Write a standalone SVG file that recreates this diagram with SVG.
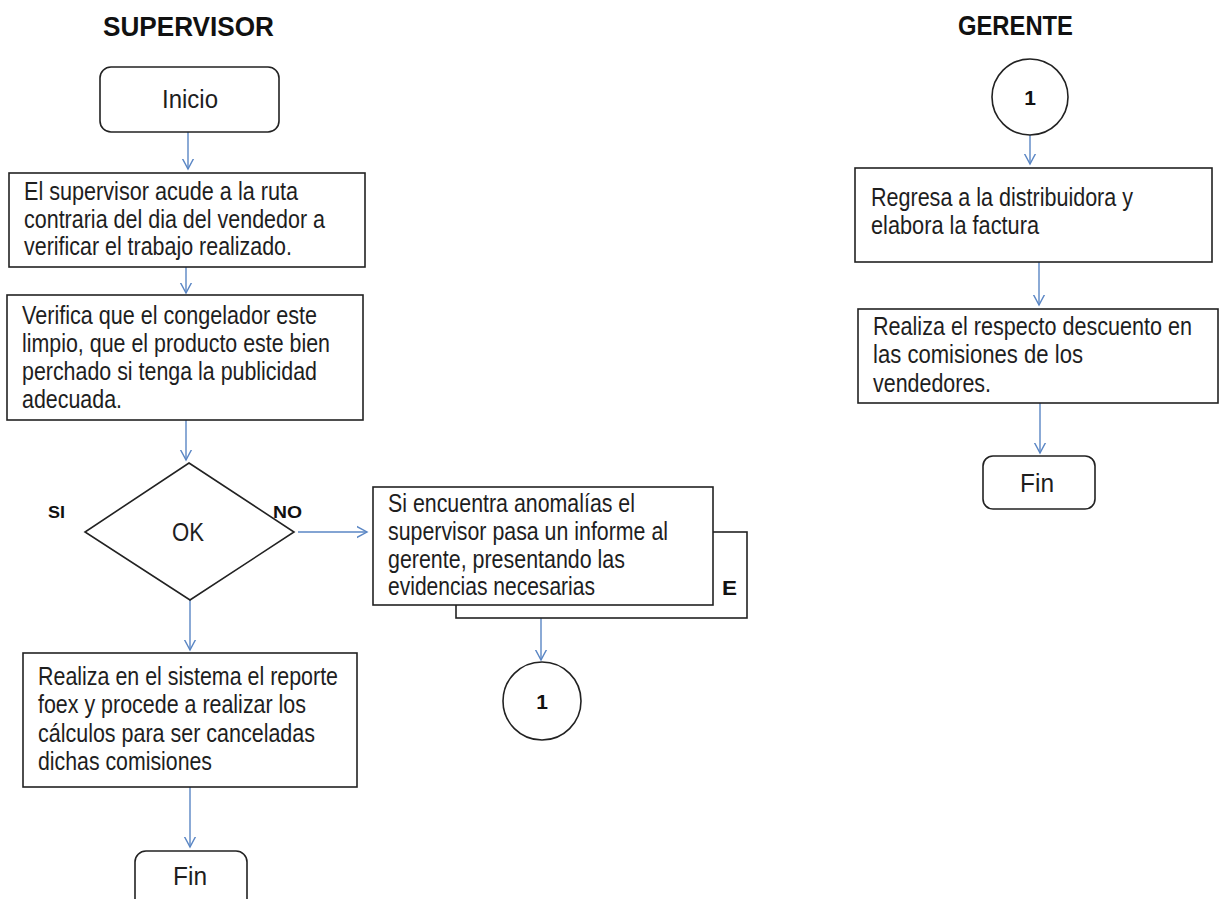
<svg xmlns="http://www.w3.org/2000/svg" width="1219" height="899" viewBox="0 0 1219 899">
<defs>
<marker id="arr" markerUnits="userSpaceOnUse" markerWidth="20" markerHeight="20" viewBox="-10 -10 20 20" refX="0" refY="0" orient="auto">
<path d="M-15,-8 L0,0 L-15,8" fill="none" stroke="#5a86c4" stroke-width="1.4"/>
</marker>
<style>
.box{fill:#fff;stroke:#222;stroke-width:1.6}
.t{font-family:"Liberation Sans",Arial,sans-serif;font-size:25px;fill:#1e1e1e}
.b{font-family:"Liberation Sans",Arial,sans-serif;font-weight:bold;fill:#111}
.c{stroke:#5a86c4;stroke-width:1.4;fill:none;marker-end:url(#arr)}
</style>
</defs>
<rect width="1219" height="899" fill="#fff"/>

<text class="b" x="103" y="36" font-size="27" textLength="171" lengthAdjust="spacingAndGlyphs">SUPERVISOR</text>
<text class="b" x="958" y="35" font-size="27" textLength="115" lengthAdjust="spacingAndGlyphs">GERENTE</text>

<g id="connectors">
<line class="c" x1="188" y1="132" x2="188" y2="169"/>
<line class="c" x1="186" y1="267" x2="186" y2="293"/>
<line class="c" x1="186" y1="420" x2="186" y2="460"/>
<line class="c" x1="190" y1="600" x2="190" y2="650"/>
<line class="c" x1="190" y1="787" x2="190" y2="847"/>
<line class="c" x1="298" y1="532" x2="367" y2="532"/>
<line class="c" x1="541" y1="605" x2="541" y2="660"/>
<line class="c" x1="1030" y1="135" x2="1030" y2="164"/>
<line class="c" x1="1039" y1="262" x2="1039" y2="305"/>
<line class="c" x1="1040" y1="403" x2="1040" y2="453"/>
</g>

<g id="inicio">
<rect class="box" x="100" y="67" width="179" height="65" rx="11"/>
<text class="t" x="162" y="108" font-size="27" textLength="56" lengthAdjust="spacingAndGlyphs">Inicio</text>
</g>

<g id="acude">
<rect class="box" x="9" y="173" width="356" height="94"/>
<text class="t" x="24" y="200" textLength="274" lengthAdjust="spacingAndGlyphs">El supervisor acude a la ruta</text>
<text class="t" x="24" y="228" textLength="301" lengthAdjust="spacingAndGlyphs">contraria del dia del vendedor a</text>
<text class="t" x="24" y="255" textLength="268" lengthAdjust="spacingAndGlyphs">verificar el trabajo realizado.</text>
</g>

<g id="verifica">
<rect class="box" x="7" y="295" width="356" height="125"/>
<text class="t" x="22" y="324" textLength="295" lengthAdjust="spacingAndGlyphs">Verifica que el congelador este</text>
<text class="t" x="22" y="352" textLength="308" lengthAdjust="spacingAndGlyphs">limpio, que el producto este bien</text>
<text class="t" x="22" y="380" textLength="295" lengthAdjust="spacingAndGlyphs">perchado si tenga la publicidad</text>
<text class="t" x="22" y="408" textLength="100" lengthAdjust="spacingAndGlyphs">adecuada.</text>
</g>

<g id="decision">
<polygon class="box" points="189,463 294,532 190,600 85,532"/>
<text class="t" x="188" y="541" font-size="26" text-anchor="middle" textLength="32" lengthAdjust="spacingAndGlyphs">OK</text>
<text class="b" x="48" y="518" font-size="17" textLength="17" lengthAdjust="spacingAndGlyphs">SI</text>
<text class="b" x="273" y="518" font-size="17" textLength="29" lengthAdjust="spacingAndGlyphs">NO</text>
</g>

<g id="informe">
<rect class="box" x="456" y="532" width="291" height="86"/>
<text class="b" x="722" y="595" font-size="21" textLength="15" lengthAdjust="spacingAndGlyphs">E</text>
<rect class="box" x="373" y="487" width="340" height="118"/>
<text class="t" x="388" y="512" textLength="247" lengthAdjust="spacingAndGlyphs">Si encuentra anomalías  el</text>
<text class="t" x="388" y="540" textLength="280" lengthAdjust="spacingAndGlyphs">supervisor pasa un informe al</text>
<text class="t" x="388" y="568" textLength="237" lengthAdjust="spacingAndGlyphs">gerente, presentando  las</text>
<text class="t" x="388" y="595" textLength="207" lengthAdjust="spacingAndGlyphs">evidencias necesarias</text>
</g>

<g id="conector1a">
<circle class="box" cx="542" cy="701" r="39"/>
<text class="b" x="542" y="709" font-size="21" text-anchor="middle">1</text>
</g>

<g id="realiza">
<rect class="box" x="23" y="653" width="334" height="134"/>
<text class="t" x="38" y="685" textLength="300" lengthAdjust="spacingAndGlyphs">Realiza en el sistema el reporte</text>
<text class="t" x="38" y="713" textLength="268" lengthAdjust="spacingAndGlyphs">foex y procede a realizar los</text>
<text class="t" x="38" y="742" textLength="277" lengthAdjust="spacingAndGlyphs">cálculos para ser canceladas</text>
<text class="t" x="38" y="770" textLength="174" lengthAdjust="spacingAndGlyphs">dichas comisiones</text>
</g>

<g id="fin1">
<rect class="box" x="135" y="851" width="112" height="60" rx="11"/>
<text class="t" x="190" y="885" font-size="30" text-anchor="middle" textLength="34" lengthAdjust="spacingAndGlyphs">Fin</text>
</g>

<g id="conector1b">
<circle class="box" cx="1030" cy="97" r="38"/>
<text class="b" x="1030" y="105" font-size="21" text-anchor="middle">1</text>
</g>

<g id="regresa">
<rect class="box" x="855" y="168" width="357" height="94"/>
<text class="t" x="871" y="206" textLength="262" lengthAdjust="spacingAndGlyphs">Regresa a la distribuidora  y</text>
<text class="t" x="871" y="234" textLength="168" lengthAdjust="spacingAndGlyphs">elabora la factura</text>
</g>

<g id="descuento">
<rect class="box" x="858" y="309" width="360" height="94"/>
<text class="t" x="873" y="335" textLength="319" lengthAdjust="spacingAndGlyphs">Realiza el respecto descuento en</text>
<text class="t" x="873" y="363" textLength="210" lengthAdjust="spacingAndGlyphs">las  comisiones de los</text>
<text class="t" x="873" y="392" textLength="118" lengthAdjust="spacingAndGlyphs">vendedores.</text>
</g>

<g id="fin2">
<rect class="box" x="983" y="456" width="112" height="53" rx="10"/>
<text class="t" x="1037" y="492" font-size="29" text-anchor="middle" textLength="34" lengthAdjust="spacingAndGlyphs">Fin</text>
</g>
</svg>
